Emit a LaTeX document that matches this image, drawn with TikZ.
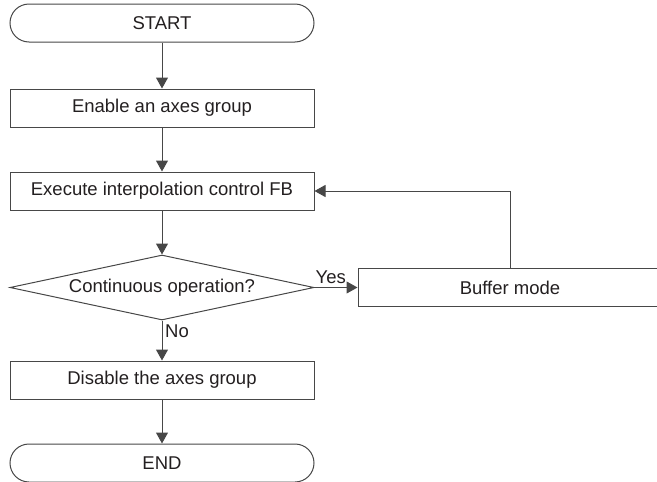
\documentclass[tikz,border=0pt]{standalone}
\usepackage{fontspec}
\setmainfont{Liberation Sans}
\usetikzlibrary{shapes.geometric,arrows.meta,positioning}
\definecolor{fcline}{HTML}{474747}
\definecolor{fctext}{HTML}{231F20}
\tikzset{
  fcbase/.style={
    draw=fcline, line width=1pt, text=fctext,
    minimum width=304pt, minimum height=38pt, inner sep=0pt,
    font=\fontsize{18.5}{22}\selectfont
  },
  fcterm/.style={fcbase, rectangle, rounded corners=19pt},
  fcstep/.style={fcbase, rectangle},
  fcdecision/.style={fcbase, diamond, aspect=4.7, minimum height=65pt},
  fcarrow/.style={-{Triangle[length=11pt,width=12pt]}, line width=1pt, draw=fcline},
  fclabel/.style={text=fctext, inner sep=1pt, font=\fontsize{18.5}{22}\selectfont},
}

\begin{document}
\begin{tikzpicture}[x=1pt, y=1pt, node distance=44pt and 43pt]
  \useasboundingbox (0,0) rectangle (657,-482);
  \node (start) [fcterm] at (162,-23) {START};
  \node (enable) [fcstep, below=46pt of start] {Enable an axes group};
  \node (execfb) [fcstep, below=of enable] {Execute interpolation control FB};
  \node (contop) [fcdecision, below=of execfb] {Continuous operation?};
  \node (buffer) [fcstep, right=of contop] {Buffer mode};
  \node (disable) [fcstep, below=40pt of contop] {Disable the axes group};
  \node (finish) [fcterm, below=of disable] {END};
  \draw[fcarrow] (start) -- (enable);
  \draw[fcarrow] (enable) -- (execfb);
  \draw[fcarrow] (execfb) -- (contop);
  \draw[fcarrow] (contop) -- (buffer);
  \draw[fcarrow] (buffer.north) |- (execfb.east);
  \draw[fcarrow] (contop) -- (disable);
  \draw[fcarrow] (disable) -- (finish);
  \node (yeslbl) [fclabel, anchor=south west, yshift=3pt] at (contop.east) {Yes};
  \node (nolbl) [fclabel, anchor=north west, xshift=2pt, yshift=-3pt] at (contop.south) {No};
\end{tikzpicture}
\end{document}
